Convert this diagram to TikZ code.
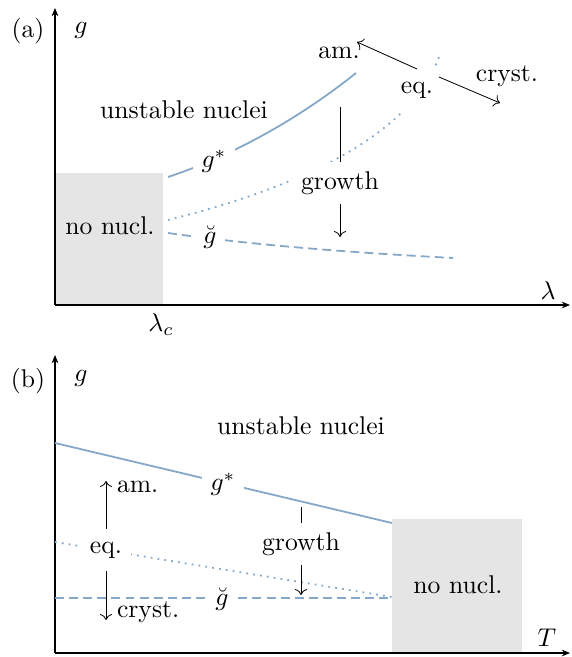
\documentclass[tikz,border=0pt]{standalone}
\usetikzlibrary{arrows.meta}
\definecolor{curveblue}{RGB}{133,168,200}
\begin{document}
\begin{tikzpicture}[x=0.39pt,y=-0.39pt,
  axis/.style={line width=0.45pt,-{Stealth[length=3.2pt,width=2.6pt]}},
  gcurve/.style={curveblue,line width=0.7pt},
  gdash/.style={gcurve,dash pattern=on 3.5pt off 2pt},
  gdot/.style={gcurve,dotted},
  lbl/.style={fill=white,minimum height=16pt},
  nonucl/.style={fill=black!10},
  flow/.style={line width=0.32pt,->}]
\useasboundingbox (0,0) rectangle (571,657);

% ---------- panel (a) ----------
\fill[nonucl] (55,173) rectangle (163,305);
\coordinate (Oa) at (55,305);
\coordinate (Ya) at (55,8);
\coordinate (Xa) at (570,305);
\draw[axis] (Oa) -- (Ya);
\draw[axis] (Oa) -- (Xa);

\draw[gcurve] (168,177) .. controls (230,156.5) and (296,121) .. (356,73);
\draw[gdot] (168,220) .. controls (260,197) and (405,150) .. (439,57);
\draw[gdash] (168,233) .. controls (260,246) and (360,253) .. (453,258);

\coordinate (grA1) at (340,107);
\coordinate (grA2) at (340,237);
\draw[flow] (grA1) -- (grA2);
\node[lbl] (growthA) at (340,183) {growth};
\node[lbl] (gstarA) at (214,161) {$g^*$};
\node[lbl] (gbreveA) at (210,237) {$\breve{g}$};
\node[lbl] (eqA) at (417,90) {eq.};
\node (amA) at (339,53) {am.};
\node (crystA) at (507,76) {cryst.};
\coordinate (arA1) at (417,69);
\coordinate (arA2) at (357,42);
\coordinate (arA3) at (439,77);
\coordinate (arA4) at (500,103);
\draw[flow] (arA1) -- (arA2);
\draw[flow] (arA3) -- (arA4);

\node (unstA) at (184,110) {unstable nuclei};
\node (nonuA) at (110,226) {no nucl.};
\node (labA) at (28,31) {(a)};
\node (gA) at (81,30) {$g$};
\node (lamA) at (548,291) {$\lambda$};
\node (lamc) at (161,325) {$\lambda_c$};

% ---------- panel (b) ----------
\fill[nonucl] (392,519) rectangle (522,653);
\coordinate (Ob) at (55,653);
\coordinate (Yb) at (55,355);
\coordinate (Xb) at (570,653);
\draw[axis] (Ob) -- (Yb);
\draw[axis] (Ob) -- (Xb);

\draw[gcurve] (55,443) -- (392,523);
\draw[gdot] (55,542) -- (392,597);
\draw[gdash] (55,598) -- (392,598);

\coordinate (grB1) at (301,507);
\coordinate (grB2) at (301,595);
\draw[flow] (grB1) -- (grB2);
\node[lbl] (growthB) at (301,544) {growth};
\node[lbl] (gstarB) at (223,484) {$g^*$};
\node[lbl] (gbreveB) at (222,599) {$\breve{g}$};
\node[lbl] (eqB) at (106,550) {eq.};
\coordinate (amtipB) at (106,481);
\coordinate (crtipB) at (106,620);
\draw[flow] (eqB.north) -- (amtipB);
\draw[flow] (eqB.south) -- (crtipB);
\node[anchor=west] (amB) at (108,487) {am.};
\node[anchor=west] (crystB) at (108,612) {cryst.};

\node (unstB) at (301,426) {unstable nuclei};
\node (nonuB) at (458,585) {no nucl.};
\node (labB) at (28,381) {(b)};
\node (gB) at (81,378) {$g$};
\node (TB) at (547,638) {$T$};
\end{tikzpicture}
\end{document}
